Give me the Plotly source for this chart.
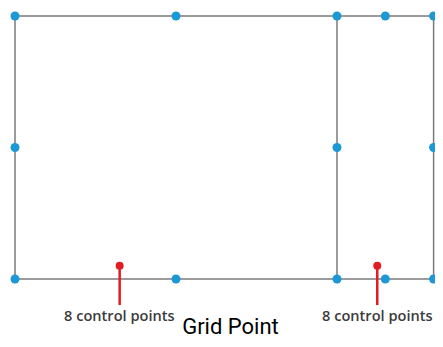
import plotly.graph_objects as go

# grid lines (x positions of the columns, y rows)
col_x = [0, 1, 2, 2.3, 2.6]
row_y = [0, 0.5, 1]
vert_x = [0, 2, 2.6]

# blue grid points
grid_x = [0, 1, 2, 2.3, 2.6, 0, 2, 2.6, 0, 1, 2, 2.3, 2.6]
grid_y = [1, 1, 1, 1, 1, 0.5, 0.5, 0.5, 0, 0, 0, 0, 0]

# red control points and their labels
ctrl_x = [0.65, 2.25]
ctrl_y = [0.05, 0.05]
ctrl_label = ["8 control points", "8 control points"]
label_y = -0.137
stem_bottom = -0.099

line_col = "#7a7a7a"
fig = go.Figure()

# horizontal lines
for y in [0, 1]:
    fig.add_trace(go.Scatter(x=[col_x[0], col_x[-1]], y=[y, y], mode="lines",
                             line=dict(color=line_col, width=1.5), hoverinfo="skip"))
# vertical lines
for x in vert_x:
    fig.add_trace(go.Scatter(x=[x, x], y=[0, 1], mode="lines",
                             line=dict(color=line_col, width=1.5), hoverinfo="skip"))

# red stems
for cx, cy in zip(ctrl_x, ctrl_y):
    fig.add_trace(go.Scatter(x=[cx, cx], y=[cy, stem_bottom], mode="lines",
                             line=dict(color="#e31b23", width=2.5), hoverinfo="skip"))

fig.add_trace(go.Scatter(x=grid_x, y=grid_y, mode="markers",
                         marker=dict(color="#1b98d5", size=9)))
fig.add_trace(go.Scatter(x=ctrl_x, y=ctrl_y, mode="markers",
                         marker=dict(color="#e31b23", size=8)))

for cx, t in zip(ctrl_x, ctrl_label):
    fig.add_annotation(x=cx, y=label_y, text=t, showarrow=False,
                       font=dict(family="Open Sans", size=14.6, color="#3b3b3b", weight=600))

fig.update_layout(
    margin=dict(l=0, r=0, t=0, b=0),
    showlegend=False,
    plot_bgcolor="white", paper_bgcolor="white",
    title=dict(text="Grid Point", x=0.521, xanchor="center", y=0.015, yanchor="bottom",
               font=dict(family="Roboto", size=22, color="black")),
)
fig.update_xaxes(range=[-0.0435, 2.6087], visible=False)
fig.update_yaxes(range=[-0.2281, 1.0304], visible=False)

fig.write_html("out.html")
